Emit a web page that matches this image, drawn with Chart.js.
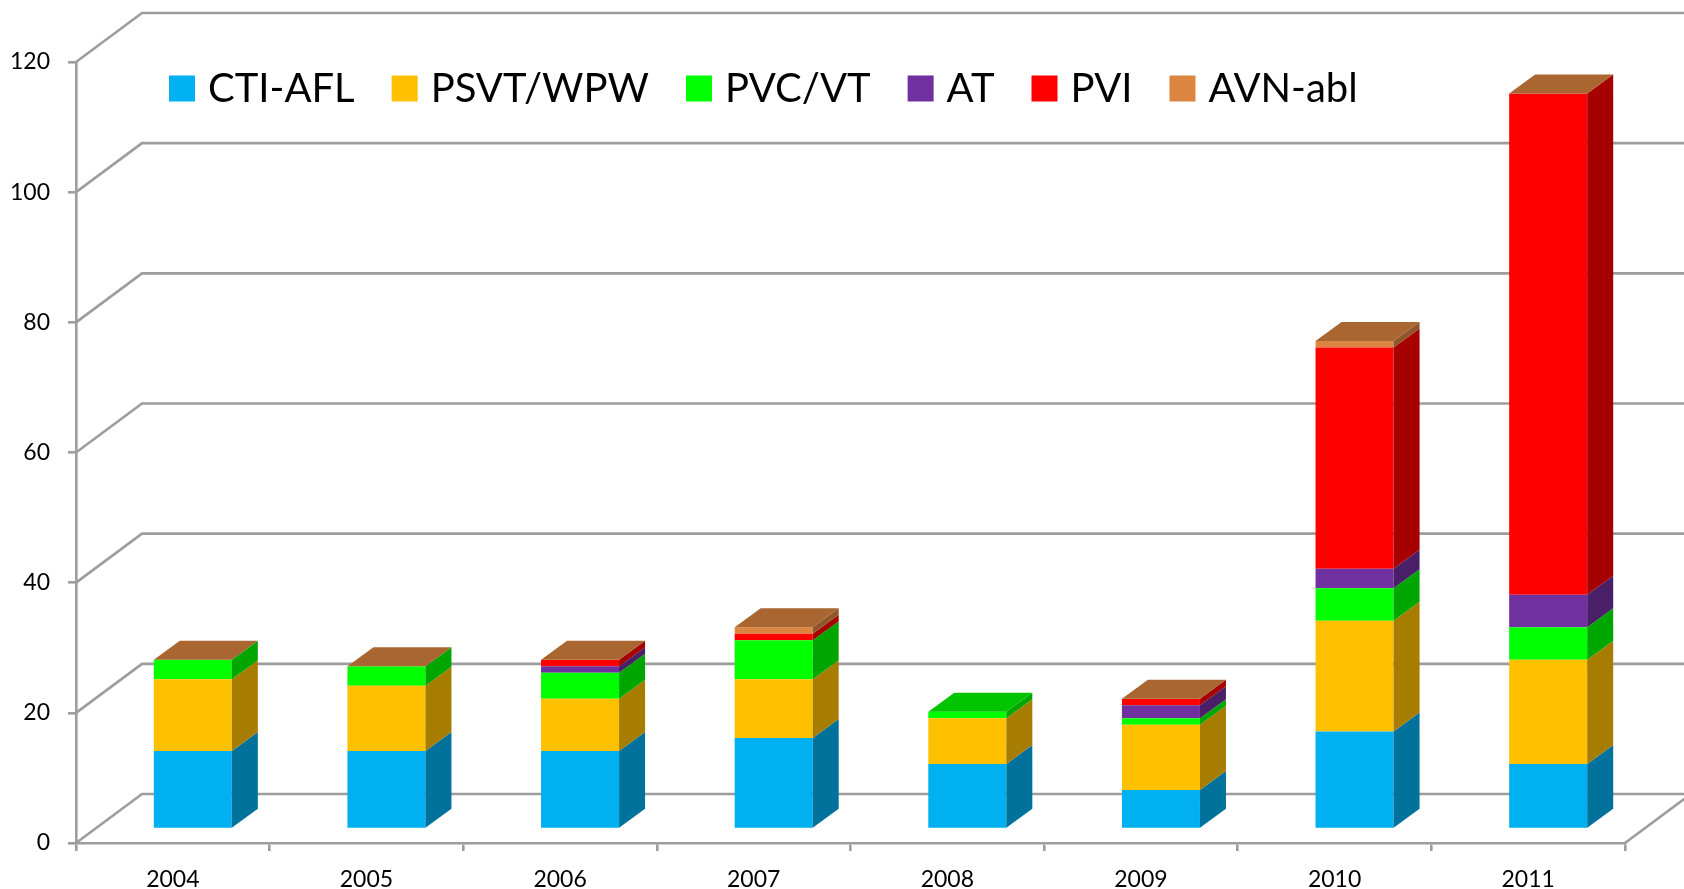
<!DOCTYPE html>
<html>
<head>
<meta charset="utf-8">
<script src="https://cdn.jsdelivr.net/npm/chart.js@4"></script>
<style>
  html, body { margin: 0; background: #fff; }
  #wrap { width: 1684px; height: 889px; }
</style>
</head>
<body>
<div id="wrap"><canvas id="grafico"></canvas></div>
<script>
// datos
const years = ["2004", "2005", "2006", "2007", "2008", "2009", "2010", "2011"];
const ctiAfl = [12, 12, 12, 14, 10, 6, 15, 10];
const psvtWpw = [11, 10, 8, 9, 7, 10, 17, 16];
const pvcVt = [3, 3, 4, 6, 1, 1, 5, 5];
const at = [0, 0, 1, 0, null, 2, 3, 5];
const pvi = [0, 0, 1, 1, null, 1, 34, 77];
const avnAbl = [0, 0, 0, 1, null, 0, 1, 0];
const yTicks = [0, 20, 40, 60, 80, 100, 120];

const nombres = ["CTI-AFL", "PSVT/WPW", "PVC/VT", "AT", "PVI", "AVN-abl"];
const colores = ["#00B0F0", "#FFC000", "#00FF00", "#7030A0", "#FF0000", "#DB8540"];
const series = [ctiAfl, psvtWpw, pvcVt, at, pvi, avnAbl];

const fuente = "Lato, 'Open Sans', sans-serif";
const gris = "#9d9d9d";
const prof = { dx: 26, dy: -19 };        // profundidad de la barra
const desplBarra = { dx: 20, dy: -14 };  // cara frontal respecto al eje
const desplPared = { dx: 66, dy: -49 };  // pared del fondo

function sombra(hex, f) {
    const n = parseInt(hex.slice(1), 16);
    const r = Math.round(((n >> 16) & 255) * f);
    const g = Math.round(((n >> 8) & 255) * f);
    const b = Math.round((n & 255) * f);
    return `rgb(${r},${g},${b})`;
}

const caja3d = {
    id: "caja3d",
    beforeDatasetsDraw(chart) {
        const c = chart.ctx;
        const y = chart.scales.y;
        const a = chart.chartArea;
        c.save();
        c.strokeStyle = gris;
        c.lineWidth = 2.6;
        yTicks.forEach(v => {
            const py = y.getPixelForValue(v);
            c.beginPath();
            c.moveTo(a.left, py);
            c.lineTo(a.left + desplPared.dx, py + desplPared.dy);
            c.lineTo(chart.width, py + desplPared.dy);
            c.stroke();
        });
        // suelo, lado derecho
        c.beginPath();
        c.moveTo(a.right, a.bottom);
        c.lineTo(a.right + desplPared.dx, a.bottom + desplPared.dy);
        c.stroke();
        c.restore();

        c.save();
        c.translate(desplBarra.dx, desplBarra.dy);
    },
    afterDatasetsDraw(chart) {
        const c = chart.ctx;
        const n = chart.data.labels.length;
        for (let i = 0; i < n; i++) {
            let tope = null;
            chart.data.datasets.forEach((ds, d) => {
                if (ds.data[i] === null) return;
                const el = chart.getDatasetMeta(d).data[i];
                const { x, y, base, width } = el.getProps(["x", "y", "base", "width"], true);
                const r = x + width / 2;
                c.fillStyle = sombra(colores[d], 0.65);
                c.beginPath();
                c.moveTo(r, y);
                c.lineTo(r + prof.dx, y + prof.dy);
                c.lineTo(r + prof.dx, base + prof.dy);
                c.lineTo(r, base);
                c.closePath();
                c.fill();
                tope = { x, y, width, d };
            });
            if (tope) {
                const l = tope.x - tope.width / 2;
                const r = tope.x + tope.width / 2;
                c.fillStyle = sombra(colores[tope.d], 0.77);
                c.beginPath();
                c.moveTo(l, tope.y);
                c.lineTo(l + prof.dx, tope.y + prof.dy);
                c.lineTo(r + prof.dx, tope.y + prof.dy);
                c.lineTo(r, tope.y);
                c.closePath();
                c.fill();
            }
        }
        c.restore();
    },
    afterDraw(chart) {
        // leyenda dentro del area
        const c = chart.ctx;
        c.save();
        c.font = "40px " + fuente;
        c.textBaseline = "middle";
        c.fillStyle = "#000";
        let x = 169;
        const yc = 88.5;
        chart.data.datasets.forEach((ds, d) => {
            c.fillStyle = colores[d];
            c.fillRect(x, yc - 13, 26, 26);
            c.fillStyle = "#000";
            c.fillText(ds.label, x + 39, yc + 1);
            x += 39 + c.measureText(ds.label).width + 37;
        });
        c.restore();
    }
};

const grafico = new Chart(document.getElementById("grafico"), {
    type: "bar",
    data: {
        labels: years,
        datasets: series.map((s, d) => ({
            label: nombres[d],
            data: s,
            backgroundColor: colores[d],
            borderWidth: 0,
            clip: false,
            categoryPercentage: 1,
            barPercentage: 0.403
        }))
    },
    options: {
        responsive: true,
        maintainAspectRatio: false,
        animation: false,
        events: [],
        layout: { padding: { top: 62, right: 59, left: 0, bottom: 0 } },
        plugins: {
            legend: { display: false },
            tooltip: { enabled: false }
        },
        scales: {
            x: {
                stacked: true,
                afterFit(scale) { scale.height = 46; },
                grid: {
                    offset: true,
                    drawOnChartArea: false,
                    drawTicks: true,
                    tickLength: 8,
                    color: gris,
                    lineWidth: 2.6
                },
                border: { display: true, color: gris, width: 2.6 },
                ticks: {
                    color: "#000",
                    padding: 15,
                    maxRotation: 0,
                    font: { family: fuente, size: 23 }
                }
            },
            y: {
                stacked: true,
                min: 0,
                max: 120,
                afterFit(scale) { scale.width = 76; },
                afterBuildTicks(scale) { scale.ticks = yTicks.map(v => ({ value: v })); },
                grid: {
                    drawOnChartArea: false,
                    drawTicks: true,
                    tickLength: 8,
                    color: gris,
                    lineWidth: 2.6
                },
                border: { display: true, color: gris, width: 2.6 },
                ticks: {
                    color: "#000",
                    padding: 18,
                    font: { family: fuente, size: 23 }
                }
            }
        }
    },
    plugins: [caja3d]
});
</script>
</body>
</html>
